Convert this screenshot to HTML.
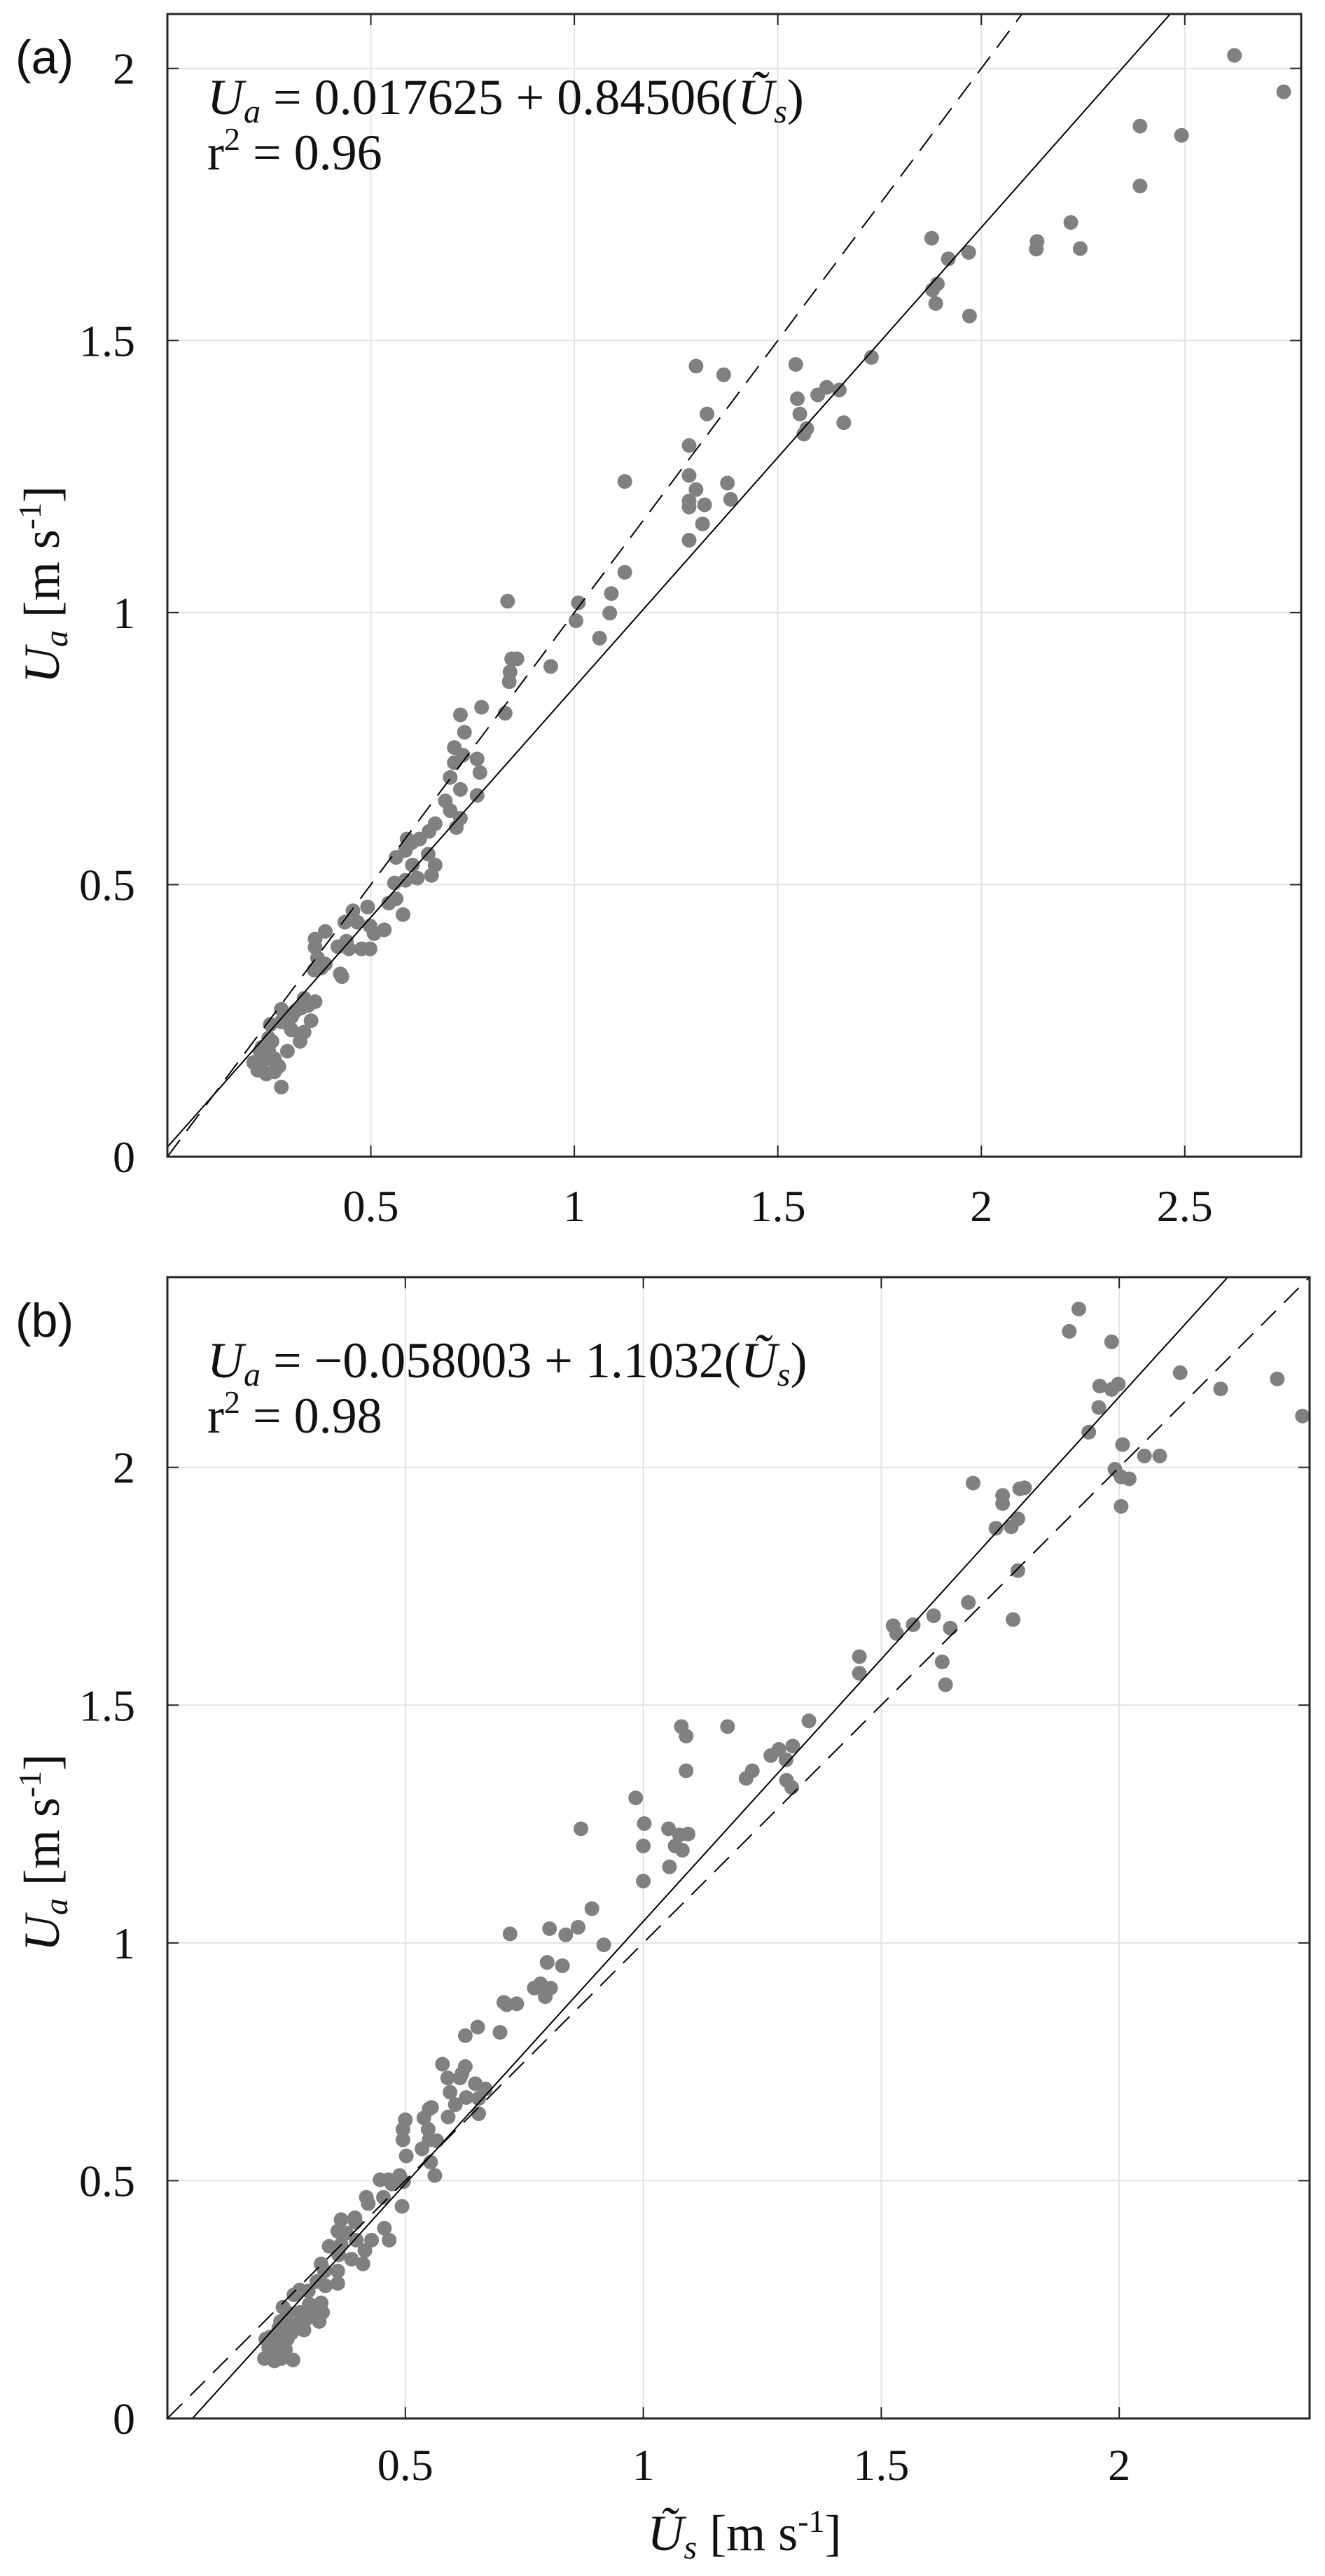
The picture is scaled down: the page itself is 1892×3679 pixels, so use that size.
<!DOCTYPE html>
<html><head><meta charset="utf-8"><style>
html,body{margin:0;padding:0;background:#fff}
svg{display:block}
text{font-family:"Liberation Serif",serif;fill:#111}
</style></head><body>
<svg id="fig" width="1892" height="3679" viewBox="0 0 1892 3679" xmlns="http://www.w3.org/2000/svg"></svg>
<script>
// Panel (a) data
const aX=[2.622,2.743,2.390,2.492,2.390,2.220,2.137,2.135,2.243,1.878,1.919,1.969,1.880,1.892,1.888,1.971,1.730,1.544,1.299,1.367,1.548,1.620,1.651,1.598,1.554,1.571,1.564,1.662,1.326,1.282,1.282,1.299,1.320,1.282,1.282,1.376,1.384,1.315,1.282,1.124,1.124,1.091,1.087,1.010,1.004,1.062,0.942,0.836,0.846,0.859,0.842,0.840,0.720,0.772,0.830,0.730,0.705,0.726,0.705,0.761,0.768,0.695,0.720,0.761,0.683,0.695,0.720,0.658,0.643,0.710,0.600,0.589,0.620,0.585,0.562,0.602,0.641,0.658,0.649,0.614,0.585,0.558,0.562,0.579,0.544,0.492,0.456,0.498,0.508,0.533,0.467,0.436,0.440,0.419,0.446,0.477,0.498,0.388,0.363,0.363,0.369,0.361,0.378,0.388,0.425,0.429,0.363,0.336,0.346,0.328,0.315,0.305,0.295,0.305,0.353,0.336,0.326,0.280,0.280,0.253,0.257,0.232,0.249,0.263,0.295,0.226,0.232,0.243,0.253,0.274,0.212,0.222,0.263,0.237,0.249,0.228,0.280];
const aY=[2.024,1.957,1.894,1.877,1.784,1.717,1.682,1.668,1.669,1.688,1.650,1.662,1.593,1.604,1.568,1.545,1.469,1.456,1.453,1.437,1.393,1.414,1.409,1.400,1.365,1.338,1.328,1.349,1.365,1.307,1.252,1.226,1.198,1.205,1.194,1.238,1.208,1.163,1.133,1.241,1.074,1.035,0.999,1.018,0.985,0.953,0.901,1.021,0.915,0.915,0.891,0.873,0.812,0.826,0.815,0.780,0.752,0.738,0.724,0.731,0.706,0.697,0.675,0.664,0.654,0.636,0.622,0.612,0.598,0.605,0.577,0.584,0.584,0.563,0.550,0.536,0.556,0.536,0.517,0.512,0.508,0.503,0.474,0.445,0.466,0.459,0.452,0.424,0.410,0.417,0.431,0.431,0.396,0.386,0.382,0.382,0.382,0.414,0.400,0.385,0.365,0.343,0.347,0.354,0.336,0.331,0.285,0.291,0.278,0.273,0.268,0.257,0.245,0.233,0.250,0.229,0.212,0.271,0.248,0.243,0.212,0.201,0.194,0.180,0.194,0.173,0.159,0.152,0.180,0.166,0.173,0.159,0.156,0.176,0.218,0.194,0.128];
const aFit=[0.017625,0.84506];
const aXTicks=[0.5,1,1.5,2,2.5];
const aYTicks=[0,0.5,1,1.5,2];
// Panel (b) data
const bX=[1.915,1.895,1.984,1.959,1.998,1.984,2.128,2.213,2.332,2.385,1.936,2.007,1.957,2.053,2.004,1.991,2.021,2.085,2.004,1.693,1.755,1.755,1.741,1.773,1.787,1.791,1.801,1.787,1.777,1.683,1.610,1.645,1.567,1.525,1.532,1.628,1.635,1.454,1.454,1.348,1.177,1.080,1.090,1.090,1.314,1.285,1.268,1.300,1.216,1.229,1.301,1.312,0.984,1.002,1.053,1.076,1.082,1.094,1.067,1.000,1.000,1.055,0.869,0.892,0.863,0.837,0.803,0.917,0.720,0.798,0.830,0.784,0.771,0.805,0.794,0.707,0.734,0.713,0.699,0.626,0.652,0.615,0.619,0.626,0.578,0.589,0.594,0.668,0.654,0.654,0.605,0.628,0.647,0.550,0.539,0.550,0.555,0.590,0.535,0.495,0.495,0.502,0.548,0.500,0.562,0.553,0.566,0.488,0.496,0.465,0.447,0.493,0.472,0.454,0.422,0.418,0.456,0.466,0.429,0.397,0.415,0.395,0.394,0.376,0.358,0.365,0.387,0.360,0.411,0.365,0.340,0.358,0.330,0.332,0.323,0.314,0.358,0.296,0.298,0.323,0.326,0.319,0.291,0.273,0.266,0.278,0.252,0.243,0.234,0.216,0.225,0.243,0.238,0.261,0.204,0.239,0.216,0.234,0.234,0.213,0.264,0.257,0.278,0.305,0.287,0.207,0.225,0.234,0.248,0.252];
const bY=[2.333,2.286,2.264,2.171,2.175,2.164,2.199,2.165,2.186,2.108,2.074,2.048,2.126,2.024,1.980,1.996,1.976,2.024,1.918,1.967,1.941,1.924,1.872,1.875,1.892,1.955,1.957,1.783,1.680,1.716,1.688,1.662,1.669,1.667,1.651,1.591,1.543,1.602,1.567,1.467,1.455,1.455,1.435,1.362,1.414,1.407,1.394,1.385,1.346,1.362,1.342,1.327,1.305,1.251,1.240,1.227,1.195,1.229,1.204,1.204,1.130,1.160,1.240,1.072,1.033,1.017,1.030,0.996,1.019,0.959,0.952,0.914,0.905,0.905,0.887,0.875,0.872,0.870,0.812,0.805,0.823,0.716,0.725,0.740,0.745,0.716,0.686,0.693,0.673,0.641,0.660,0.675,0.704,0.651,0.632,0.586,0.654,0.634,0.567,0.608,0.586,0.552,0.608,0.628,0.511,0.539,0.584,0.511,0.498,0.502,0.502,0.446,0.493,0.465,0.452,0.465,0.400,0.375,0.375,0.375,0.353,0.413,0.422,0.390,0.394,0.366,0.335,0.344,0.325,0.418,0.362,0.310,0.310,0.279,0.325,0.288,0.284,0.268,0.240,0.243,0.223,0.204,0.208,0.199,0.260,0.223,0.223,0.234,0.186,0.171,0.152,0.171,0.204,0.180,0.126,0.126,0.139,0.167,0.149,0.149,0.123,0.199,0.270,0.223,0.186,0.167,0.121,0.190,0.145,0.167];
const bFit=[-0.058003,1.1032];
const bXTicks=[0.5,1,1.5,2];
const bYTicks=[0,0.5,1,1.5,2];

const NS='http://www.w3.org/2000/svg';
const svg=document.getElementById('fig');
function mk(tag,attrs,parent){const e=document.createElementNS(NS,tag);for(const k in attrs)e.setAttribute(k,attrs[k]);(parent||svg).appendChild(e);return e;}

function panel(o){
  const g=mk('g',{});
  
  
  const sx=v=>o.L+(v-o.x0)/(o.x1-o.x0)*(o.R-o.L);
  const sy=v=>o.B-(v-o.y0)/(o.y1-o.y0)*(o.B-o.T);
  o.xt.forEach(t=>{const l=mk('line',{x1:sx(t),x2:sx(t),y1:o.T,y2:o.B,stroke:'#e3e3e3','stroke-width':2},g);
    });
  o.yt.forEach(t=>{const l=mk('line',{x1:o.L,x2:o.R,y1:sy(t),y2:sy(t),stroke:'#e3e3e3','stroke-width':2},g);
    });
  const cid='clip'+o.name;
  const cp=mk('clipPath',{id:cid},g);mk('rect',{x:o.L,y:o.T,width:o.R-o.L,height:o.B-o.T},cp);
  const pg=mk('g',{'clip-path':'url(#'+cid+')'},g);
  o.px.forEach((v,i)=>{const c=mk('circle',{cx:sx(v),cy:sy(o.py[i]),r:10.5,fill:'#808080'},pg);
    });
  const d=mk('line',{x1:sx(o.x0),y1:sy(o.x0),x2:sx(o.x1),y2:sy(o.x1),stroke:'#000','stroke-width':2,'stroke-dasharray':'30,16'},pg);
  
  const f=mk('line',{x1:sx(o.x0),y1:sy(o.fit[0]+o.fit[1]*o.x0),x2:sx(o.x1),y2:sy(o.fit[0]+o.fit[1]*o.x1),stroke:'#000','stroke-width':2},pg);
  
  o.xt.forEach(t=>{mk('line',{x1:sx(t),x2:sx(t),y1:o.B,y2:o.B-16,stroke:'#222','stroke-width':2},g);
    mk('line',{x1:sx(t),x2:sx(t),y1:o.T,y2:o.T+16,stroke:'#222','stroke-width':2},g);
    const tx=mk('text',{x:sx(t),y:o.xly,'text-anchor':'middle','font-size':64},g);tx.textContent=String(t);
    });
  o.yt.forEach(t=>{mk('line',{x1:o.L,x2:o.L+16,y1:sy(t),y2:sy(t),stroke:'#222','stroke-width':2},g);
    mk('line',{x1:o.R,x2:o.R-16,y1:sy(t),y2:sy(t),stroke:'#222','stroke-width':2},g);
    const tx=mk('text',{x:193,y:sy(t)+22,'text-anchor':'end','font-size':64},g);tx.textContent=String(t);
    });
  const box=mk('rect',{x:o.L,y:o.T,width:o.R-o.L,height:o.B-o.T,fill:'none',stroke:'#262626','stroke-width':3},g);
  
  const pl=mk('text',{x:22,y:o.T+85,'font-size':68,style:'font-family:"Liberation Sans",sans-serif'},g);pl.textContent=o.label;
  
  const eq=mk('text',{x:296,y:o.T+143,'font-size':72},g);
  eq.innerHTML='<tspan font-style="italic">U</tspan><tspan font-style="italic" font-size="48" dy="12">a</tspan><tspan dy="-12"> = '+o.eq+'(</tspan><tspan font-style="italic">Ũ</tspan><tspan font-style="italic" font-size="48" dy="12">s</tspan><tspan dy="-12">)</tspan>';
  
  const r2=mk('text',{x:296,y:o.T+222,'font-size':72},g);
  r2.innerHTML='r<tspan font-size="46" dy="-28">2</tspan><tspan dy="28"> = '+o.r2+'</tspan>';
  
  const yl=mk('text',{x:0,y:0,'font-size':72,'text-anchor':'middle',transform:'translate(84,'+o.ylc+') rotate(-90)'},g);
  yl.innerHTML='<tspan font-style="italic">U</tspan><tspan font-style="italic" font-size="48" dy="12">a</tspan><tspan dy="-12"> [m s</tspan><tspan font-size="46" dy="-26">-1</tspan><tspan dy="26">]</tspan>';
  
}
panel({name:'panel-a',label:'(a)',L:239,R:1858,T:20,B:1652,x0:0,x1:2.786,y0:0,y1:2.1,px:aX,py:aY,fit:aFit,xt:aXTicks,yt:aYTicks,xly:1744,ylc:835,eq:'0.017625 + 0.84506',r2:'0.96'});
panel({name:'panel-b',label:'(b)',L:239,R:1870,T:1824,B:3454,x0:0,x1:2.4,y0:0,y1:2.4,px:bX,py:bY,fit:bFit,xt:bXTicks,yt:bYTicks,xly:3542,ylc:2646,eq:'−0.058003 + 1.1032',r2:'0.98'});
const xl=mk('text',{x:1063,y:3642,'font-size':72,'text-anchor':'middle'});
xl.innerHTML='<tspan font-style="italic">Ũ</tspan><tspan font-style="italic" font-size="48" dy="12">s</tspan><tspan dy="-12"> [m s</tspan><tspan font-size="46" dy="-26">-1</tspan><tspan dy="26">]</tspan>';


</script>
</body></html>
